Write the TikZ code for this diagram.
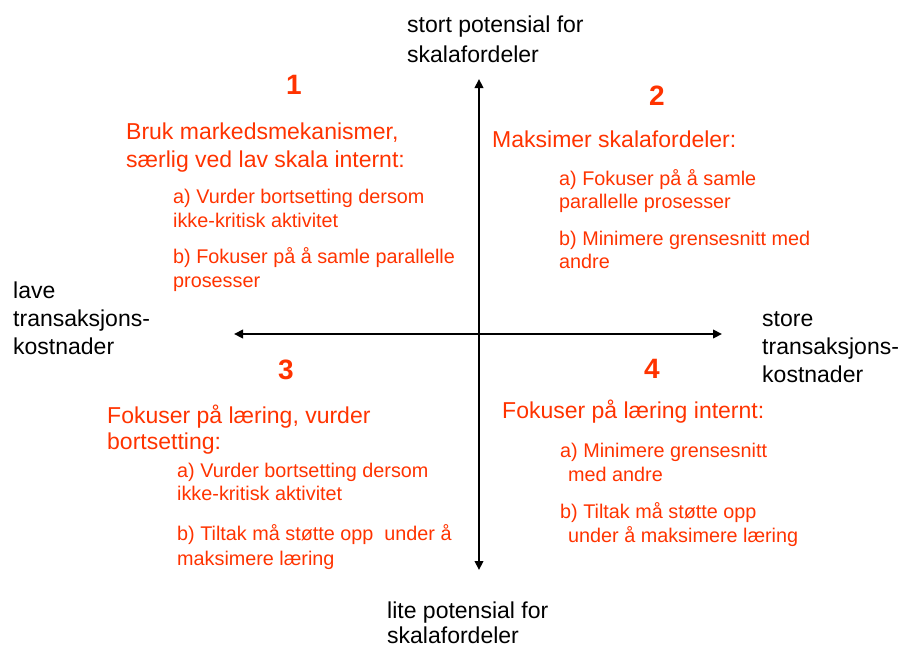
\documentclass[tikz,border=0pt]{standalone}
\usepackage{fontspec}
\setmainfont{Liberation Sans}
\usetikzlibrary{arrows.meta}
\definecolor{accent}{RGB}{255,51,0}
\tikzset{
  axislabel/.style={anchor=base west, inner sep=0pt, text=black, font=\fontsize{23}{27}\selectfont},
  heading/.style={anchor=base west, inner sep=0pt, text=accent, font=\fontsize{23}{27}\selectfont},
  item/.style={anchor=base west, inner sep=0pt, text=accent, font=\fontsize{19.8}{24}\selectfont},
  quadnum/.style={anchor=base, inner sep=0pt, text=accent, font=\fontsize{28}{32}\selectfont\bfseries},
  axis/.style={line width=2.2pt, -{Triangle[length=9pt,width=8.5pt]}},
}
\begin{document}
\begin{tikzpicture}[x=1pt,y=-1pt]
\useasboundingbox (0,0) rectangle (901,648);

% axes
\coordinate (origin) at (479,334);
\coordinate (ytop) at (479,79);
\coordinate (ybot) at (479,570);
\coordinate (xleft) at (234,334);
\coordinate (xright) at (722,334);
\draw[axis] (origin) -- (ytop);
\draw[axis] (origin) -- (ybot);
\draw[axis] (origin) -- (xleft);
\draw[axis] (origin) -- (xright);

% axis labels
\node[axislabel] (top1) at (407,32) {stort potensial for};
\node[axislabel] (top2) at (407,62) {skalafordeler};
\node[axislabel] (bot1) at (387,618) {lite potensial for};
\node[axislabel] (bot2) at (387,643) {skalafordeler};
\node[axislabel] (left1) at (13,298) {lave};
\node[axislabel] (left2) at (13,326) {transaksjons-};
\node[axislabel] (left3) at (13,354) {kostnader};
\node[axislabel] (right1) at (762,326) {store};
\node[axislabel] (right2) at (762,354) {transaksjons-};
\node[axislabel] (right3) at (762,382) {kostnader};

% quadrant numbers
\node[quadnum] (n1) at (294,94) {1};
\node[quadnum] (n2) at (657,105) {2};
\node[quadnum] (n3) at (286,379) {3};
\node[quadnum] (n4) at (652,378) {4};

% quadrant 1
\node[heading] (q1h1) at (126,139) {Bruk markedsmekanismer,};
\node[heading] (q1h2) at (126,167) {særlig ved lav skala internt:};
\node[item] (q1a1) at (173,203) {a) Vurder bortsetting dersom};
\node[item] (q1a2) at (173,227) {ikke-kritisk aktivitet};
\node[item] (q1b1) at (173,263) {b) Fokuser på å samle parallelle};
\node[item] (q1b2) at (173,287) {prosesser};

% quadrant 2
\node[heading] (q2h1) at (492,147) {Maksimer skalafordeler:};
\node[item] (q2a1) at (559,185) {a) Fokuser på å samle};
\node[item] (q2a2) at (559,208) {parallelle prosesser};
\node[item] (q2b1) at (559,245) {b) Minimere grensesnitt med};
\node[item] (q2b2) at (559,268) {andre};

% quadrant 3
\node[heading] (q3h1) at (107,423) {Fokuser på læring, vurder};
\node[heading] (q3h2) at (107,449) {bortsetting:};
\node[item] (q3a1) at (177,477) {a) Vurder bortsetting dersom};
\node[item] (q3a2) at (177,500) {ikke-kritisk aktivitet};
\node[item] (q3b1) at (177,540) {b) Tiltak må støtte opp\ \ under å};
\node[item] (q3b2) at (177,565) {maksimere læring};

% quadrant 4
\node[heading] (q4h1) at (502,418) {Fokuser på læring internt:};
\node[item] (q4a1) at (560,457) {a) Minimere grensesnitt};
\node[item] (q4a2) at (568,481) {med andre};
\node[item] (q4b1) at (560,518) {b) Tiltak må støtte opp};
\node[item] (q4b2) at (568,542) {under å maksimere læring};
\end{tikzpicture}
\end{document}
